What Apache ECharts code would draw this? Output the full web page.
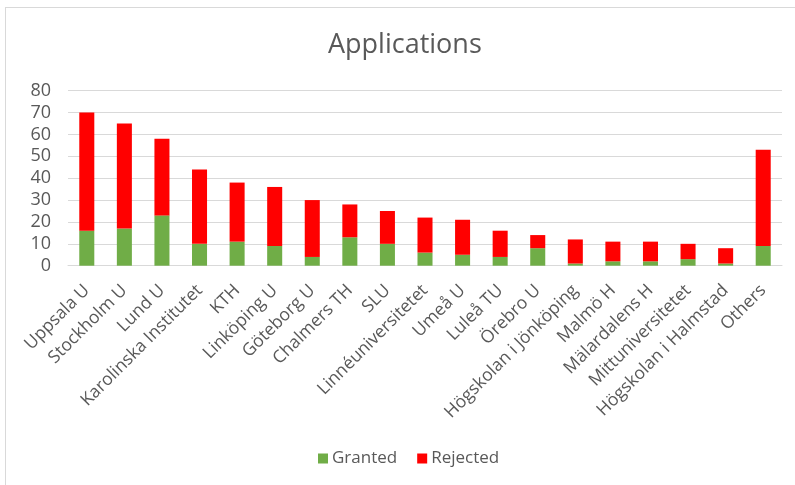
<!DOCTYPE html>
<html>
<head>
<meta charset="utf-8">
<script src="https://cdn.jsdelivr.net/npm/echarts@6/dist/echarts.min.js"></script>
<style>
html,body{margin:0;padding:0;background:#fff;overflow:hidden;width:795px;height:485px;}
#frame{position:absolute;left:5px;top:7px;width:820px;height:520px;border:1px solid #d9d9d9;box-sizing:border-box;}
#chart{position:absolute;left:0;top:0;width:795px;height:485px;}
</style>
</head>
<body>
<div id="frame"></div>
<div id="chart"></div>
<script>
const categories = ["Uppsala U","Stockholm U","Lund U","Karolinska Institutet","KTH","Linköping U","Göteborg U","Chalmers TH","SLU","Linnéuniversitetet","Umeå U","Luleå TU","Örebro U","Högskolan i Jönköping","Malmö H","Mälardalens H","Mittuniversitetet","Högskolan i Halmstad","Others"];
const granted  = [16,17,23,10,11,9,4,13,10,6,5,4,8,1,2,2,3,1,9];
const rejected = [54,48,35,34,27,27,26,15,15,16,16,12,6,11,9,9,7,7,44];
const yTicks = [0,10,20,30,40,50,60,70,80];

const font = "Open Sans";
const chart = echarts.init(document.getElementById('chart'), null, {renderer:'canvas'});
chart.setOption({
  animation:false,
  backgroundColor:'transparent',
  title:{text:'Applications',left:323,top:27,textStyle:{fontFamily:font,fontSize:27,fontWeight:'normal',color:'#595959'}},
  grid:{left:68,right:13,top:90.7,bottom:219.3,containLabel:false},
  legend:{bottom:13,left:313,itemWidth:10,itemHeight:10,itemGap:20,icon:'rect',
    textStyle:{fontFamily:font,fontSize:17,color:'#595959',padding:[0,0,0,-1]},data:['Granted','Rejected']},
  xAxis:{type:'category',data:categories,
    axisLine:{lineStyle:{color:'#d9d9d9'}},axisTick:{show:false},
    axisLabel:{rotate:45,interval:0,fontFamily:font,fontSize:17.5,color:'#595959',margin:22}},
  yAxis:{type:'value',min:yTicks[0],max:yTicks[yTicks.length-1],interval:10,
    axisLine:{show:false},axisTick:{show:false},
    splitLine:{lineStyle:{color:'#d9d9d9'}},
    axisLabel:{fontFamily:font,fontSize:18,color:'#595959',margin:17}},
  series:[
    {name:'Granted',type:'bar',stack:'a',data:granted,barWidth:'40%',itemStyle:{color:'#70ad47'}},
    {name:'Rejected',type:'bar',stack:'a',data:rejected,barWidth:'40%',itemStyle:{color:'#ff0000'}}
  ]
});
</script>
</body>
</html>
